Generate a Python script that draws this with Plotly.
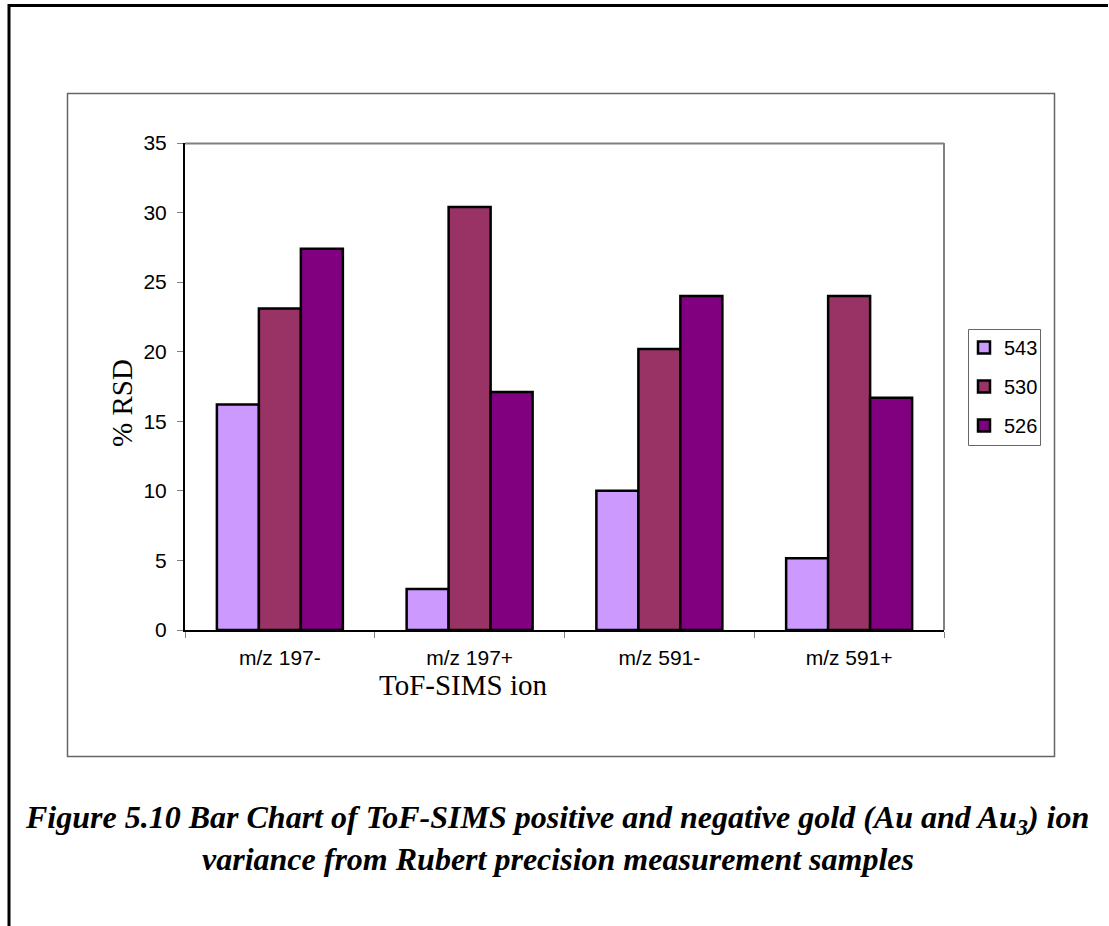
import plotly.graph_objects as go

categories = ["m/z 197-", "m/z 197+", "m/z 591-", "m/z 591+"]
series_names = ["543", "530", "526"]
values_543 = [16.2, 2.95, 10.0, 5.15]
values_530 = [23.1, 30.4, 20.2, 24.0]
values_526 = [27.4, 17.1, 24.0, 16.7]
colors = ["#CC99FF", "#993366", "#800080"]

W, H = 1109, 926


def px(x):
    return x / W


def py(y):
    return 1 - y / H


fig = go.Figure()
for i, (name, vals) in enumerate(zip(series_names, [values_543, values_530, values_526])):
    fig.add_trace(go.Bar(
        x=categories, y=vals, name=name,
        marker=dict(color=colors[i], line=dict(color="black", width=2.5)),
        legendgroup=name,
    ))

fig.update_layout(
    width=W, height=H,
    margin=dict(l=0, r=0, t=0, b=0, pad=0, autoexpand=False),
    paper_bgcolor="white", plot_bgcolor="white",
    barmode="group", bargap=0.336, bargroupgap=0,
    font=dict(family="Arial, Liberation Sans", size=19, color="black"),
    showlegend=True,
    legend=dict(
        x=px(964), y=py(328), xanchor="left", yanchor="top",
        bgcolor="rgba(0,0,0,0)", borderwidth=0,
        font=dict(family="Arial, Liberation Sans", size=20, color="black"),
        tracegroupgap=10, itemwidth=30,
    ),
    xaxis=dict(
        domain=[px(185), px(944)],
        showline=True, linecolor="black", linewidth=1.5,
        ticks="outside", tickson="boundaries", ticklen=6, tickcolor="#808080",
        ticklabelstandoff=8, automargin=False,
        tickfont=dict(family="Arial, Liberation Sans", size=21, color="black"),
        showgrid=False, zeroline=False,
    ),
    yaxis=dict(
        domain=[py(630), py(143)],
        range=[0, 35], dtick=5,
        showline=True, linecolor="black", linewidth=2,
        ticks="outside", ticklen=6, tickcolor="#808080",
        ticklabelstandoff=6, automargin=False,
        tickfont=dict(family="Arial, Liberation Sans", size=21, color="black"),
        showgrid=False, zeroline=False,
    ),
)

shapes = [
    # outer page border (top and left)
    dict(type="line", xref="paper", yref="paper", x0=px(8), x1=px(1108), y0=py(5.5), y1=py(5.5),
         line=dict(color="black", width=3)),
    dict(type="line", xref="paper", yref="paper", x0=px(9), x1=px(9), y0=py(4), y1=py(926),
         line=dict(color="black", width=3)),
    # chart area box
    dict(type="rect", xref="paper", yref="paper", x0=px(67.5), x1=px(1054.5), y0=py(93.5), y1=py(756.5),
         line=dict(color="#666666", width=1.5)),
    # plot frame top and right
    dict(type="line", xref="paper", yref="paper", x0=px(185), x1=px(944), y0=py(143.5), y1=py(143.5),
         line=dict(color="#808080", width=2)),
    dict(type="line", xref="paper", yref="paper", x0=px(944), x1=px(944), y0=py(143), y1=py(630),
         line=dict(color="#808080", width=2)),
    # legend box
    dict(type="rect", xref="paper", yref="paper", x0=px(968.5), x1=px(1040.5), y0=py(329.5), y1=py(445.5),
         line=dict(color="#666666", width=1)),
]
fig.update_layout(shapes=shapes)

annotations = [
    dict(text="% RSD", x=px(122), y=py(403), xref="paper", yref="paper", showarrow=False,
         textangle=-90, font=dict(family="Liberation Serif, Times New Roman", size=29, color="black"),
         xanchor="center", yanchor="middle"),
    dict(text="ToF-SIMS ion", x=px(463), y=py(685), xref="paper", yref="paper", showarrow=False,
         font=dict(family="Liberation Serif, Times New Roman", size=29, color="black"),
         xanchor="center", yanchor="middle"),
    dict(text="<b><i>Figure 5.10 Bar Chart of ToF-SIMS positive and negative gold (Au and Au<sub>3</sub>) ion</i></b>",
         x=px(557), y=py(819), xref="paper", yref="paper", showarrow=False,
         font=dict(family="Liberation Serif, Times New Roman", size=32, color="black"),
         xanchor="center", yanchor="middle"),
    dict(text="<b><i>variance from Rubert precision measurement samples</i></b>",
         x=px(558), y=py(859), xref="paper", yref="paper", showarrow=False,
         font=dict(family="Liberation Serif, Times New Roman", size=32, color="black"),
         xanchor="center", yanchor="middle"),
]
fig.update_layout(annotations=annotations)

fig.write_html(
    "out.html",
    config={"displayModeBar": False},
    post_script="document.body.style.margin='0';document.body.style.padding='0';"
                "document.documentElement.style.overflow='hidden';",
)
